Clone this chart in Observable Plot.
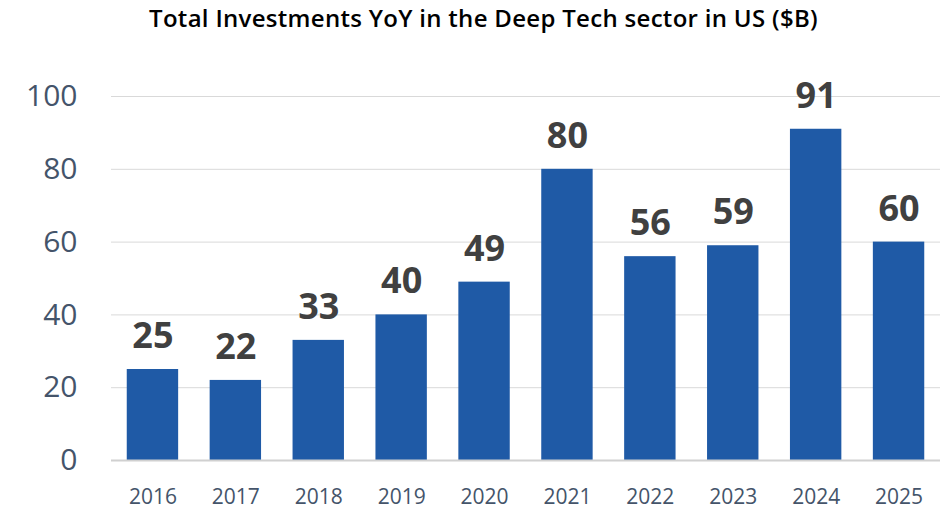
<!DOCTYPE html>
<html>
<head>
<meta charset="utf-8">
<script src="https://cdn.jsdelivr.net/npm/d3@7"></script>
<script src="https://cdn.jsdelivr.net/npm/@observablehq/plot@0.6"></script>
<style>
  html, body { margin: 0; padding: 0; background: #fff; }
  #wrap { width: 949px; height: 510px; position: relative; font-family: "Open Sans", sans-serif; overflow: hidden; }
  #title { height: 30px; padding-top: 3px; line-height: 30px; text-align: center; font-size: 24px; font-weight: 600; color: #000; letter-spacing: 0.3px; padding-left: 18px; box-sizing: border-box; white-space: nowrap; }
</style>
</head>
<body>
<div id="wrap">
  <div id="title">Total Investments YoY in the Deep Tech sector in US ($B)</div>
  <div id="chart"></div>
</div>
<script>
const years = ["2016","2017","2018","2019","2020","2021","2022","2023","2024","2025"];
const values = [25, 22, 33, 40, 49, 80, 56, 59, 91, 60];
const yTicks = [0, 20, 40, 60, 80, 100];

const data = years.map((y, i) => ({year: y, value: values[i]}));

const chart = Plot.plot({
  width: 949,
  height: 480,
  marginTop: 66,
  marginBottom: 50,
  marginLeft: 111,
  marginRight: 9,
  style: {fontFamily: "Open Sans, sans-serif", background: "#fff", overflow: "visible"},
  x: {domain: years, paddingInner: 0.38, paddingOuter: 0.19, round: false, label: null},
  y: {domain: [0, 100], label: null},
  marks: [
    Plot.gridY(yTicks, {stroke: "#d9d9d9", strokeOpacity: 1, strokeWidth: 1}),
    Plot.barY(data, {x: "year", y: "value", fill: "#1f5aa6"}),
    Plot.ruleY([0], {stroke: "#d0d0d0", strokeWidth: 2}),
    Plot.text(data, {x: "year", y: "value", text: d => String(d.value), dy: -33, fontSize: 36, fontWeight: 700, fill: "#404040"}),
    Plot.axisY(yTicks, {tickSize: 0, tickPadding: 34, fontSize: 30, color: "#44546a", label: null}),
    Plot.axisX({tickSize: 0, tickPadding: 29, fontSize: 21, color: "#44546a", label: null})
  ]
});
document.getElementById("chart").appendChild(chart);
</script>
</body>
</html>
